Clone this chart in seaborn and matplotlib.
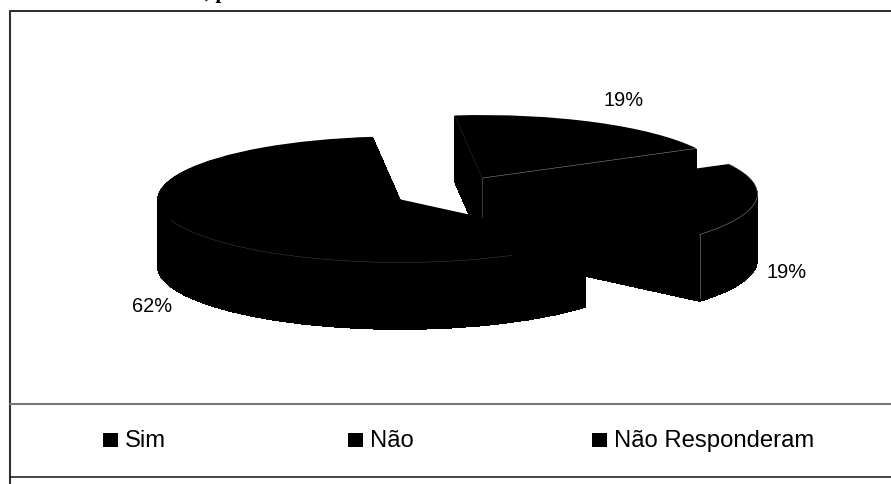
import matplotlib
matplotlib.use("Agg")
import matplotlib.pyplot as plt
from matplotlib.lines import Line2D
from matplotlib.patches import Rectangle
import numpy as np
import seaborn as sns

sns.set_theme(style="white")
plt.rcParams["font.family"] = ["Liberation Sans", "DejaVu Sans"]

categories = ["Sim", "Não", "Não Responderam"]
values = [19, 19, 62]
explode = [0.25, 0.25, 0.25]
slice_colors = sns.color_palette(["#000000", "#000000", "#000000"])

W, H = 891, 484
CX, CY, RX, RY, DEPTH = 454, 192, 243, 63, 67

fig = plt.figure(figsize=(W / 100, H / 100), dpi=100)
fig.patch.set_facecolor("white")
ax = fig.add_axes([0, 0, 1, 1])


def px(x, y):
    return x / W, 1 - y / H


def rim(wedge, f0, f1, color, lw):
    t = np.radians(np.linspace(wedge.theta1 + f0 * (wedge.theta2 - wedge.theta1),
                               wedge.theta1 + f1 * (wedge.theta2 - wedge.theta1), 120))
    cx, cy = wedge.center
    ax.plot(cx + np.cos(t), cy + np.sin(t), color=color, lw=lw, zorder=5)


def spoke(wedge, theta, color, lw):
    cx, cy = wedge.center
    t = np.radians(theta)
    ax.plot([cx, cx + np.cos(t)], [cy, cy + np.sin(t)], color=color, lw=lw, zorder=5)


def drop(x, y, depth, color, lw):
    ax.plot([x, x], [y, y - depth / RY], color=color, lw=lw, zorder=5)


# extruded body, then the top face
for d in range(DEPTH, 0, -1):
    ax.pie(values, explode=explode, colors=slice_colors, startangle=96.5,
           counterclock=False, center=(0, -d / RY), radius=1,
           wedgeprops=dict(linewidth=0, antialiased=False))
top, _ = ax.pie(values, explode=explode, colors=slice_colors, startangle=96.5,
                counterclock=False, center=(0, 0), radius=1,
                wedgeprops=dict(linewidth=0))

# hairline highlights that show on the black body
sim, nao, resp = top
spoke(sim, sim.theta1, "#8a8a8a", 0.4)
spoke(sim, sim.theta2, "#3a3a3a", 0.3)
drop(sim.center[0], sim.center[1], 39, "#6a6a6a", 0.4)
rim(nao, 0.0, 1.0, "#8a8a8a", 0.4)
drop(nao.center[0] + np.cos(np.radians(nao.theta1)),
     nao.center[1] + np.sin(np.radians(nao.theta1)), 64, "#8a8a8a", 0.4)
rim(resp, 0.46, 0.90, "#4a4a4a", 0.3)

ax.set_aspect("auto")
ax.set_xlim(-CX / RX, (W - CX) / RX)
ax.set_ylim(-(H - CY) / RY, CY / RY)
ax.set_axis_off()

# chart frame and legend separator
for (x0, y0, x1, y1, c, lw) in [
    (10, 11, 891, 11, "#1a1a1a", 1.3),
    (10, 0 + 11, 10, 484, "#333333", 1.5),
    (10, 404, 891, 404, "#777777", 1.5),
    (10, 477, 891, 477, "#111111", 1.1),
]:
    xa, ya = px(x0, y0)
    xb, yb = px(x1, y1)
    fig.add_artist(Line2D([xa, xb], [ya, yb], color=c, linewidth=lw))

# percentage labels
label_pos = [(624, 100), (787, 273), (152, 307)]
for v, (x, y) in zip(values, label_pos):
    fx, fy = px(x, y)
    fig.text(fx, fy, f"{v}%", ha="center", va="center", fontsize=14.4, color="black")

# legend
marker_x = [103, 348, 592]
for name, x in zip(categories, marker_x):
    fx, fy = px(x, 447)
    fig.add_artist(Rectangle((fx, fy), 15 / W, 14 / H, transform=fig.transFigure,
                             facecolor="black", edgecolor="none"))
    tx, ty = px(x + 22, 447)
    fig.text(tx, ty, name, ha="left", va="baseline", fontsize=17.2, color="black")

# clipped caption remnant above the frame
fx, fy = px(205, -2)
fig.text(fx, fy, ", p", ha="left", va="baseline", fontsize=15,
         family="Liberation Serif", weight="bold", color="black")

fig.savefig("out.png", dpi=100)
